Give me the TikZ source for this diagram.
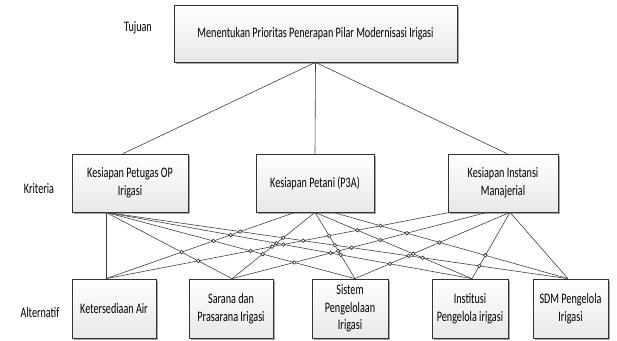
\documentclass[tikz,border=0pt]{standalone}
\usepackage{fontspec}
\setmainfont{Carlito}[FakeStretch=0.7]
\usetikzlibrary{shadows,intersections,calc}
\begin{document}
\begin{tikzpicture}[x=1pt,y=-1pt,
  box/.style={draw=black!80, line width=0.7pt, rectangle, align=center, inner sep=1pt,
    top color=white, bottom color=black!9,
    drop shadow={shadow xshift=2pt, shadow yshift=-2pt, fill=black!35, opacity=1},
    font=\fontsize{14.5}{17.5}\selectfont},
  lab/.style={font=\fontsize{14.5}{17.5}\selectfont},
  conn/.style={draw=black!75, line width=0.6pt},
  hop/.style={draw=black!85, fill=white, line width=0.6pt}]
\useasboundingbox (0,0) rectangle (617,340);
% nodes
\node[box, minimum width=283pt, minimum height=57pt] (t) at (315.5,33.5) {Menentukan Prioritas Penerapan Pilar Modernisasi Irigasi};
\node[box, minimum width=116pt, minimum height=58pt] (c1) at (130,183) {Kesiapan Petugas OP\\Irigasi};
\node[box, minimum width=118pt, minimum height=58pt] (c2) at (315,183) {Kesiapan Petani (P3A)};
\node[box, minimum width=110pt, minimum height=58pt] (c3) at (503,183) {Kesiapan Instansi\\Manajerial};
\node[box, minimum width=84pt, minimum height=59pt] (n1) at (114,308.5) {Ketersediaan Air};
\node[box, minimum width=84pt, minimum height=59pt] (n2) at (231,308.5) {Sarana dan\\Prasarana Irigasi};
\node[box, minimum width=76pt, minimum height=59pt] (n3) at (350,308.5) {Sistem\\Pengelolaan\\Irigasi};
\node[box, minimum width=76pt, minimum height=59pt] (n4) at (470,308.5) {Institusi\\Pengelola irigasi};
\node[box, minimum width=75pt, minimum height=59pt] (n5) at (570.5,308.5) {SDM Pengelola\\Irigasi};
\node[lab] (lt) at (138,28) {Tujuan};
\node[lab] (lk) at (39,189) {Kriteria};
\node[lab] (la) at (40,313) {Alternatif};
% goal to criteria
\draw[conn] (t.south) -- ([xshift=-7pt]c1.north);
\draw[conn] (t.south) -- (c2.north);
\draw[conn] (t.south) -- ([xshift=4pt]c3.north);
% criteria to alternatives
\draw[conn, name path global=l1] ([xshift=-24pt]c1.south) -- ([xshift=-8pt]n1.north);
\draw[conn, name path global=l2] ([xshift=-24pt]c1.south) -- ([xshift=1pt]n2.north);
\draw[conn, name path global=l3] ([xshift=-24pt]c1.south) -- ([xshift=5pt]n3.north);
\draw[conn, name path global=l4] ([xshift=-24pt]c1.south) -- ([xshift=2pt]n4.north);
\draw[conn, name path global=l5] ([xshift=-24pt]c1.south) -- ([xshift=-2.5pt]n5.north);
\draw[conn, name path global=l6] ([xshift=-20pt]c2.south) -- ([xshift=-8pt]n1.north);
\draw[conn, name path global=l7] (c2.south) -- ([xshift=1pt]n2.north);
\draw[conn, name path global=l8] (c2.south) -- ([xshift=5pt]n3.north);
\draw[conn, name path global=l9] (c2.south) -- ([xshift=2pt]n4.north);
\draw[conn, name path global=l10] ([xshift=18pt]c2.south) -- ([xshift=-2.5pt]n5.north);
\draw[conn, name path global=l11] ([xshift=-53pt]c3.south) -- ([xshift=-8pt]n1.north);
\draw[conn, name path global=l12] ([xshift=-16pt]c3.south) -- ([xshift=1pt]n2.north);
\draw[conn, name path global=l13] ([xshift=7pt]c3.south) -- ([xshift=5pt]n3.north);
\draw[conn, name path global=l14] ([xshift=7pt]c3.south) -- ([xshift=2pt]n4.north);
\draw[conn, name path global=l15] ([xshift=7pt]c3.south) -- ([xshift=-2.5pt]n5.north);
% line jumps at crossings (skip pairs that share an end point)
\def\slist{{1,1,1,1,1,2,3,3,3,4,5,6,7,7,7}}
\foreach \i in {1,...,14}{
  \pgfmathtruncatemacro\jstart{\i+1}
  \pgfmathtruncatemacro\si{\slist[\i-1]}
  \pgfmathtruncatemacro\ei{mod(\i-1,5)}
  \foreach \j in {\jstart,...,15}{
    \pgfmathtruncatemacro\sj{\slist[\j-1]}
    \pgfmathtruncatemacro\ej{mod(\j-1,5)}
    \ifnum\si=\sj\relax\else
    \ifnum\ei=\ej\relax\else
      \path[name intersections/.expanded={of=l\i\space and l\j, name=ip, total=\noexpand\t}] \pgfextra{\xdef\tot{\t}};
      \ifnum\tot>0
        \foreach \k in {1,...,\tot}{
          \draw[hop] (ip-\k) circle[radius=1.8pt];
        }
      \fi
    \fi\fi
  }
}
\end{tikzpicture}
\end{document}
